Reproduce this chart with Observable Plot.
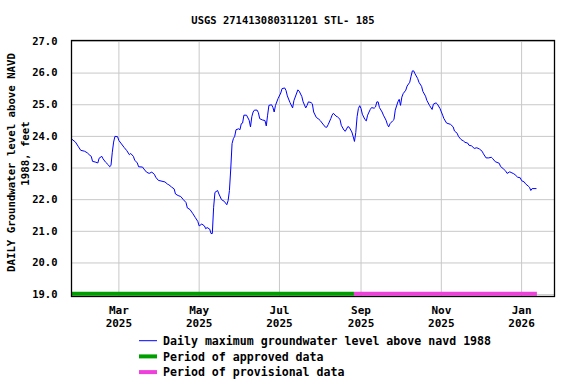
<!DOCTYPE html>
<html>
<head>
<meta charset="utf-8">
<script src="https://cdn.jsdelivr.net/npm/d3@7"></script>
<script src="https://cdn.jsdelivr.net/npm/@observablehq/plot@0.6"></script>
<style>
  html, body { margin: 0; padding: 0; background: #fff; }
  #chart { width: 576px; height: 384px; }
</style>
</head>
<body>
<div id="chart"></div>
<script>
const title = "USGS 271413080311201 STL- 185";
const yLabelLines = ["DAILY Groundwater level above NAVD", "1988, feet"];

const dates = [
  "2025-01-24","2025-01-27","2025-01-29","2025-01-31","2025-02-03","2025-02-05","2025-02-07","2025-02-08","2025-02-09","2025-02-11",
  "2025-02-13","2025-02-14","2025-02-16","2025-02-17","2025-02-19","2025-02-21","2025-02-22","2025-02-23","2025-02-24","2025-02-25",
  "2025-02-26","2025-02-28","2025-03-01","2025-03-03","2025-03-05","2025-03-07","2025-03-09","2025-03-10","2025-03-12","2025-03-13",
  "2025-03-15","2025-03-16","2025-03-19","2025-03-20","2025-03-22","2025-03-24","2025-03-26","2025-03-28","2025-03-29","2025-03-31",
  "2025-04-02","2025-04-05","2025-04-07","2025-04-08","2025-04-10","2025-04-12","2025-04-13","2025-04-15","2025-04-17","2025-04-19",
  "2025-04-21","2025-04-22","2025-04-24","2025-04-26","2025-04-28","2025-04-30","2025-05-01","2025-05-03","2025-05-05","2025-05-06",
  "2025-05-07","2025-05-09","2025-05-10","2025-05-11","2025-05-12","2025-05-13","2025-05-15","2025-05-16","2025-05-18","2025-05-20",
  "2025-05-22","2025-05-23","2025-05-24","2025-05-25","2025-05-26","2025-05-27","2025-05-28","2025-05-29","2025-05-31","2025-06-01",
  "2025-06-02","2025-06-03","2025-06-04","2025-06-06","2025-06-08","2025-06-09","2025-06-10","2025-06-11","2025-06-12","2025-06-14",
  "2025-06-15","2025-06-16","2025-06-18","2025-06-20","2025-06-21","2025-06-22","2025-06-23","2025-06-25","2025-06-26","2025-06-27",
  "2025-06-28","2025-06-30","2025-07-02","2025-07-03","2025-07-05","2025-07-06","2025-07-07","2025-07-09","2025-07-11","2025-07-12",
  "2025-07-15","2025-07-16","2025-07-18","2025-07-19","2025-07-21","2025-07-22","2025-07-23","2025-07-25","2025-07-26","2025-07-27",
  "2025-07-29","2025-07-31","2025-08-01","2025-08-03","2025-08-05","2025-08-06","2025-08-07","2025-08-09","2025-08-10","2025-08-11",
  "2025-08-13","2025-08-14","2025-08-16","2025-08-17","2025-08-19","2025-08-20","2025-08-22","2025-08-23","2025-08-25","2025-08-26",
  "2025-08-27","2025-08-28","2025-08-29","2025-08-30","2025-08-31","2025-09-01","2025-09-02","2025-09-04","2025-09-05","2025-09-06",
  "2025-09-08","2025-09-09","2025-09-11","2025-09-12","2025-09-13","2025-09-14","2025-09-15","2025-09-17","2025-09-18","2025-09-20",
  "2025-09-21","2025-09-22","2025-09-23","2025-09-25","2025-09-26","2025-09-27","2025-09-29","2025-09-30","2025-10-01","2025-10-02",
  "2025-10-03","2025-10-05","2025-10-06","2025-10-08","2025-10-09","2025-10-10","2025-10-11","2025-10-12","2025-10-14","2025-10-15",
  "2025-10-17","2025-10-18","2025-10-20","2025-10-21","2025-10-23","2025-10-25","2025-10-26","2025-10-28","2025-10-29","2025-10-31",
  "2025-11-02","2025-11-03","2025-11-05","2025-11-08","2025-11-10","2025-11-11","2025-11-13","2025-11-14","2025-11-16","2025-11-18",
  "2025-11-19","2025-11-21","2025-11-22","2025-11-24","2025-11-26","2025-11-28","2025-11-30","2025-12-02","2025-12-03","2025-12-05",
  "2025-12-07","2025-12-09","2025-12-10","2025-12-12","2025-12-15","2025-12-16","2025-12-18","2025-12-20","2025-12-21","2025-12-23",
  "2025-12-24","2025-12-26","2025-12-27","2025-12-29","2025-12-31","2026-01-01","2026-01-03","2026-01-04","2026-01-06","2026-01-07",
  "2026-01-08","2026-01-09","2026-01-12"
];
const levels = [
  23.92,23.82,23.69,23.56,23.53,23.48,23.40,23.37,23.21,23.19,
  23.16,23.31,23.37,23.29,23.18,23.10,23.04,23.08,23.50,23.82,
  24.00,23.99,23.87,23.76,23.65,23.55,23.42,23.46,23.37,23.25,
  23.16,23.04,23.03,22.97,22.87,22.83,22.87,22.80,22.71,22.61,
  22.59,22.56,22.49,22.47,22.40,22.34,22.18,22.13,22.10,22.00,
  21.91,21.74,21.69,21.57,21.44,21.31,21.17,21.23,21.17,21.08,
  21.12,21.07,20.93,20.93,21.76,22.23,22.29,22.18,22.00,21.95,
  21.84,21.97,22.29,22.97,23.77,23.93,24.00,24.21,24.24,24.21,
  24.40,24.42,24.67,24.67,24.51,24.30,24.62,24.77,24.83,24.83,
  24.75,24.56,24.52,24.50,24.33,24.67,24.98,25.00,24.92,24.77,
  24.98,25.20,25.37,25.51,25.53,25.45,25.28,25.07,24.90,25.13,
  25.47,25.43,25.26,25.09,24.90,24.98,25.09,25.07,25.03,24.77,
  24.60,24.54,24.50,24.39,24.29,24.29,24.37,24.56,24.67,24.73,
  24.64,24.62,24.54,24.35,24.20,24.16,24.31,24.29,24.14,24.00,
  23.84,24.12,24.62,24.88,24.97,24.88,24.70,24.53,24.49,24.67,
  24.85,24.91,24.89,24.93,25.09,25.09,24.91,24.77,24.67,24.51,
  24.38,24.30,24.40,24.49,24.53,24.83,25.09,25.17,24.98,25.24,
  25.35,25.46,25.59,25.71,25.90,26.07,26.07,25.98,25.83,25.71,
  25.58,25.42,25.27,25.14,24.98,24.85,25.02,25.06,25.02,24.88,
  24.67,24.56,24.42,24.38,24.30,24.17,24.10,24.00,23.90,23.85,
  23.81,23.79,23.72,23.70,23.62,23.64,23.60,23.53,23.45,23.32,
  23.32,23.34,23.30,23.20,23.15,23.05,22.98,22.90,22.83,22.88,
  22.86,22.82,22.79,22.71,22.69,22.60,22.56,22.50,22.43,22.39,
  22.29,22.35,22.35
];

const periodNames = ["Period of approved data", "Period of provisional data"];
const periodStarts = ["2025-01-24", "2025-08-27"];
const periodEnds = ["2025-08-27", "2026-01-13"];
const periodColors = ["#009f00", "#f040dc"];
const seriesName = "Daily maximum groundwater level above navd 1988";

const xTickDates = ["2025-03-01","2025-05-01","2025-07-01","2025-09-01","2025-11-01","2026-01-01"];
const xTickLabels = ["Mar\n2025","May\n2025","Jul\n2025","Sep\n2025","Nov\n2025","Jan\n2026"];
const yTicks = [19, 20, 21, 22, 23, 24, 25, 26, 27];

const parse = d3.utcParse("%Y-%m-%d");
const series = dates.map((d, i) => ({date: parse(d), level: levels[i]}));
const periods = periodNames.map((n, i) => ({name: n, start: parse(periodStarts[i]), end: parse(periodEnds[i]), color: periodColors[i]}));
const xTicks = xTickDates.map(parse);
const labelOf = new Map(xTicks.map((d, i) => [+d, xTickLabels[i]]));

const FONT = "'DejaVu Sans Mono', 'Liberation Mono', monospace";

const plot = Plot.plot({
  width: 576,
  height: 384,
  marginLeft: 71,
  marginRight: 22,
  marginTop: 40,
  marginBottom: 88,
  style: {fontFamily: FONT, fontSize: "10.5px", fontWeight: "bold", color: "#000", background: "#fff"},
  x: {type: "utc", domain: [parse("2025-01-24"), parse("2026-01-26")]},
  y: {domain: [18.94, 27.03]},
  marks: [
    Plot.gridX(xTicks, {stroke: "#c8c8c8", strokeOpacity: 1, strokeWidth: 1}),
    Plot.gridY(yTicks, {stroke: "#c8c8c8", strokeOpacity: 1, strokeWidth: 1}),
    Plot.ruleY(periods, {y: () => 19.03, x1: "start", x2: "end", stroke: "color", strokeWidth: 4}),
    Plot.line(series, {x: "date", y: "level", stroke: "#0000ff", strokeWidth: 1}),
    Plot.frame({stroke: "#000", strokeWidth: 1.3}),
    Plot.axisY(yTicks, {tickSize: 0, tickPadding: 14, tickFormat: d => d.toFixed(1), label: null, fontWeight: "bold", fontSize: 10.5}),
    Plot.axisX(xTicks, {tickSize: 0, tickPadding: 8, tickFormat: d => labelOf.get(+d), label: null, lineHeight: 1.18, fontWeight: "bold", fontSize: 11})
  ]
});

const svg = d3.select(plot);
svg.append("text")
  .attr("x", 283).attr("y", 24)
  .attr("text-anchor", "middle")
  .attr("font-family", FONT).attr("font-size", "10.5px").attr("font-weight", "bold")
  .text(title);

const yl = [[15, 162.5], [28.5, 153.5]];
yLabelLines.forEach((t, i) => {
  svg.append("text")
    .attr("transform", `translate(${yl[i][0]},${yl[i][1]}) rotate(-90)`)
    .attr("text-anchor", "middle")
    .attr("font-family", FONT).attr("font-size", "10.7px").attr("font-weight", "bold")
    .text(t);
});

const legendItems = [
  {name: seriesName, color: "#0000ff", width: 1},
  {name: periodNames[0], color: periodColors[0], width: 4},
  {name: periodNames[1], color: periodColors[1], width: 4}
];
const lg = svg.append("g").attr("text-anchor", "start");
legendItems.forEach((it, i) => {
  const yc = 340.7 + i * 15.7;
  lg.append("line").attr("x1", 139).attr("x2", 157).attr("y1", yc).attr("y2", yc)
    .attr("stroke", it.color).attr("stroke-width", it.width);
  lg.append("text").attr("x", 163).attr("y", yc + 4.3)
    .attr("text-anchor", "start")
    .attr("font-family", FONT).attr("font-size", "11.6px").attr("font-weight", "bold")
    .text(it.name);
});

document.getElementById("chart").appendChild(plot);
</script>
</body>
</html>
